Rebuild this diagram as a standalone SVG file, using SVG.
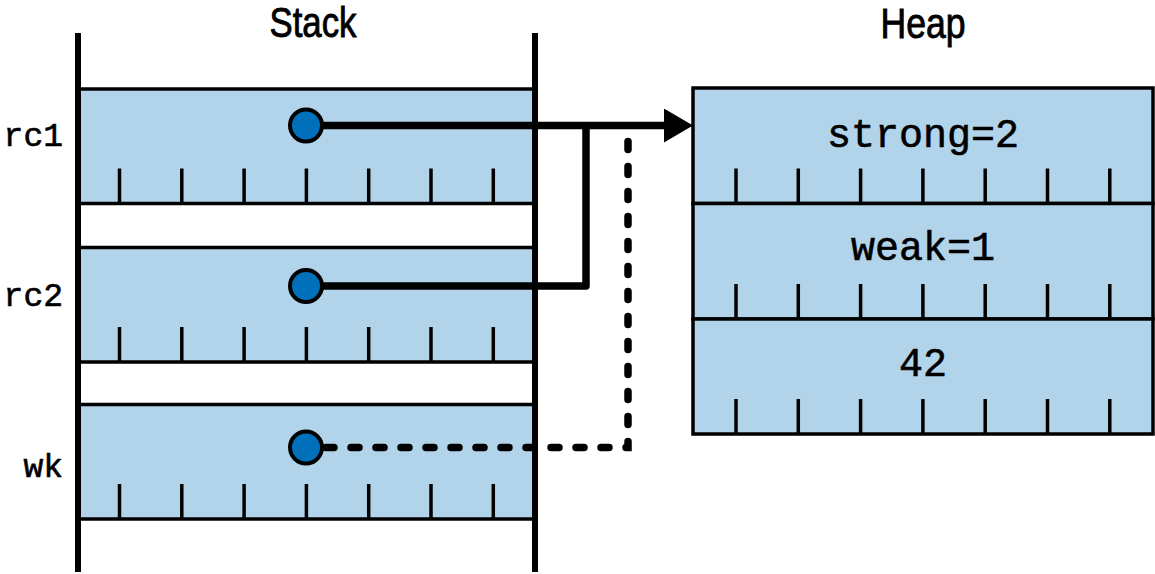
<svg xmlns="http://www.w3.org/2000/svg" width="1155" height="574" viewBox="0 0 1155 574">
  <defs>
    <style>
      .cell { fill: #B2D4EA; stroke: #000; stroke-width: 3.5; }
      .tick { stroke: #000; stroke-width: 3.5; fill: none; }
      .rail { stroke: #000; stroke-width: 6; fill: none; }
      .code { font-family: "Liberation Mono", "DejaVu Sans Mono", monospace; fill: #000; stroke: #000; stroke-width: 0.6; }
      .title { font-family: "Liberation Sans Narrow", "Liberation Sans", Arial, sans-serif; font-size: 43px; fill: #000; stroke: #000; stroke-width: 0.9; text-anchor: middle; }
      .dot { fill: #0070BA; stroke: #000; stroke-width: 4; }
      .strong { stroke: #000; stroke-width: 7.5; fill: none; stroke-linejoin: round; }
      .weak { stroke: #000; stroke-width: 7.5; fill: none; stroke-linecap: round; stroke-dasharray: 8 17; }
    </style>
    <path id="sticks" d="M119.5 0v-35M181.8 0v-35M244.1 0v-35M306.4 0v-35M368.7 0v-35M431 0v-35M493.3 0v-35"/>
    <path id="hticks" d="M736 0v-35M798.3 0v-35M860.6 0v-35M922.9 0v-35M985.2 0v-35M1047.5 0v-35M1109.8 0v-35"/>
    <marker id="arrow" viewBox="0 0 29 34" refX="0" refY="17" markerWidth="29" markerHeight="34" markerUnits="userSpaceOnUse" orient="auto">
      <path d="M0 0L29 17L0 34Z" fill="#000"/>
    </marker>
  </defs>

  <g id="titles">
    <text class="title" x="313" y="37" textLength="87" lengthAdjust="spacingAndGlyphs">Stack</text>
    <text class="title" x="923" y="38" textLength="85" lengthAdjust="spacingAndGlyphs">Heap</text>
  </g>

  <g id="stack">
    <g id="rc1">
      <rect class="cell" x="78" y="89" width="457" height="114.5"/>
      <use href="#sticks" class="tick" y="203.5"/>
      <text class="code" x="63" y="146" font-size="33" text-anchor="end">rc1</text>
    </g>
    <g id="rc2">
      <rect class="cell" x="78" y="247.5" width="457" height="114.5"/>
      <use href="#sticks" class="tick" y="362"/>
      <text class="code" x="63" y="306" font-size="33" text-anchor="end">rc2</text>
    </g>
    <g id="wk">
      <rect class="cell" x="78" y="404.5" width="457" height="114.5"/>
      <use href="#sticks" class="tick" y="519"/>
      <text class="code" x="63" y="477" font-size="33" text-anchor="end">wk</text>
    </g>
    <g id="stack-rails">
      <line class="rail" x1="78" y1="33" x2="78" y2="572"/>
      <line class="rail" x1="535" y1="33" x2="535" y2="572"/>
    </g>
  </g>

  <g id="heap">
    <g id="strong">
      <rect class="cell" x="693" y="88" width="460" height="115.5"/>
      <use href="#hticks" class="tick" y="203.5"/>
      <text class="code" x="923" y="147" font-size="40" text-anchor="middle">strong=2</text>
    </g>
    <g id="weak">
      <rect class="cell" x="693" y="203.5" width="460" height="115.5"/>
      <use href="#hticks" class="tick" y="319"/>
      <text class="code" x="923" y="260" font-size="40" text-anchor="middle">weak=1</text>
    </g>
    <g id="value">
      <rect class="cell" x="693" y="319" width="460" height="115"/>
      <use href="#hticks" class="tick" y="434"/>
      <text class="code" x="923" y="376" font-size="40" text-anchor="middle">42</text>
    </g>
  </g>

  <g id="connectors">
    <path class="strong" d="M320 125.5H664" marker-end="url(#arrow)"/>
    <path class="strong" d="M320 286H586V125.5"/>
    <path class="weak" d="M326 447.5H628V138"/>
    <circle class="dot" cx="306" cy="125.5" r="16"/>
    <circle class="dot" cx="306" cy="286" r="16"/>
    <circle class="dot" cx="306" cy="447.5" r="16"/>
  </g>
</svg>
